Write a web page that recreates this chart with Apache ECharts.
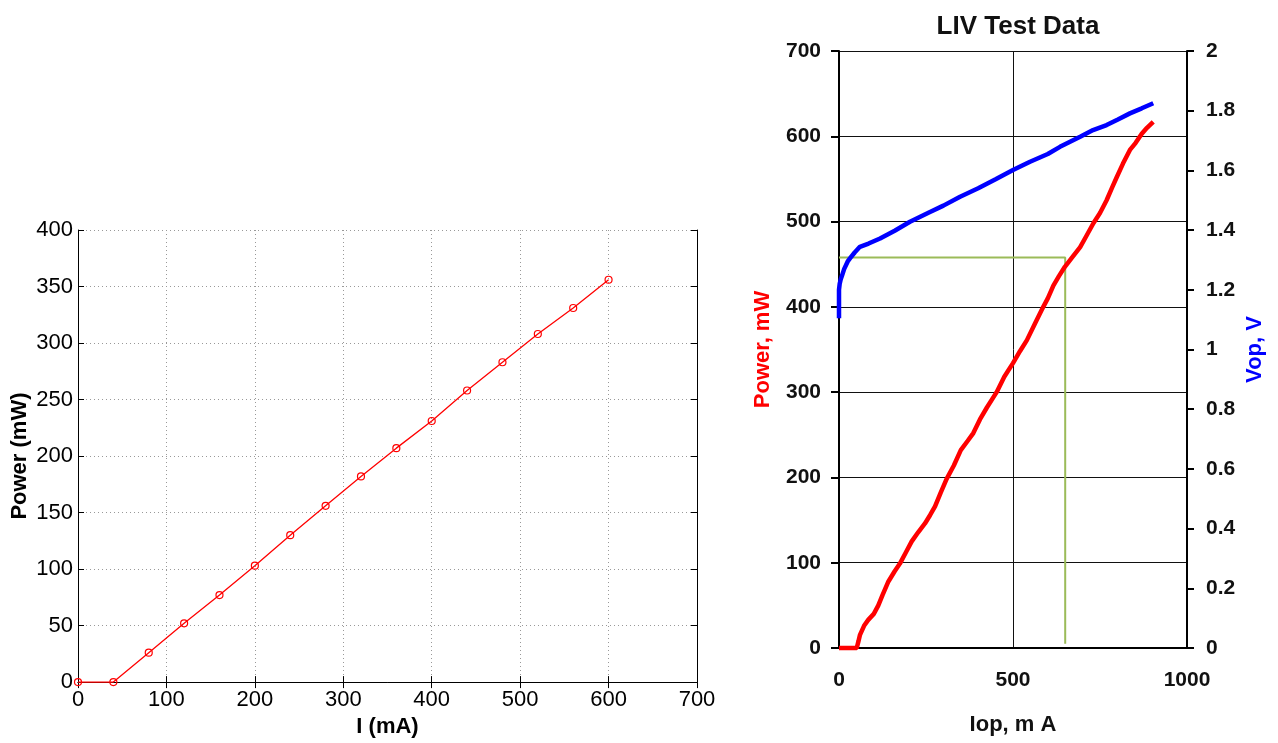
<!DOCTYPE html>
<html>
<head>
<meta charset="utf-8">
<title>LIV</title>
<script src="https://cdn.jsdelivr.net/npm/echarts@6/dist/echarts.min.js"></script>
<style>
  html, body { margin: 0; padding: 0; background: #fff; }
  #main { width: 1278px; height: 743px; }
</style>
</head>
<body>
<div id="main"></div>
<script>
// left plot: measured points
const iMa = [0, 40, 80, 120, 160, 200, 240, 280, 320, 360, 400, 440, 480, 520, 560, 600]
const powerMw = [0, 0, 26, 52, 77, 103, 130, 156, 182, 207, 231, 258, 283, 308, 331, 356]

// right plot: LIV test data, power (mW) vs Iop (mA)
const livIop = [0, 25, 51, 56, 60, 72, 84, 100, 113, 125, 142, 160, 175, 192, 209, 228, 247, 262, 276, 292, 309, 330, 350, 370, 386, 405, 425, 453, 475, 500, 520, 540, 565, 587, 600, 616, 632, 649, 670, 693, 712, 731, 750, 769, 785, 798, 816, 836, 852, 870, 885, 903]
const livPower = [0, 0, 0, 8, 15, 26, 33, 40, 50, 62, 78, 90, 99, 112, 125, 136, 146, 156, 166, 182, 198, 214, 232, 243, 252, 268, 282, 300, 318, 334, 348, 361, 382, 400, 410, 425, 436, 447, 458, 470, 484, 498, 510, 525, 540, 552, 568, 584, 592, 603, 610, 617]

// right plot: Vop (V) vs Iop (mA)
const vopIop = [0, 0, 0, 2, 5, 8, 15, 25, 32, 45, 60, 85, 118, 160, 204, 260, 300, 348, 400, 450, 500, 549, 600, 635, 693, 730, 769, 800, 836, 870, 903]
const vopV = [1.105, 1.15, 1.2, 1.22, 1.235, 1.245, 1.27, 1.295, 1.306, 1.325, 1.344, 1.355, 1.372, 1.398, 1.428, 1.46, 1.482, 1.512, 1.54, 1.57, 1.601, 1.629, 1.655, 1.679, 1.713, 1.735, 1.752, 1.77, 1.791, 1.808, 1.825]

// green marker lines
const markIop = [0, 650, 650]
const markPower = [458, 458, 5]

const pairs = (xs, ys) => xs.map((x, i) => [x, ys[i]])

const chart = echarts.init(document.getElementById('main'))
const helv = 'Liberation Sans, Arial, Helvetica, sans-serif'

chart.setOption({
  animation: false,
  title: {
    text: 'LIV Test Data',
    left: 1013,
    top: 9,
    textAlign: 'center',
    textStyle: { fontFamily: helv, fontSize: 26, fontWeight: 'bold', color: '#111' }
  },
  grid: [
    { left: 78, top: 230, width: 619, height: 461 },
    { left: 839, top: 51, width: 348, height: 597 }
  ],
  xAxis: [
    {
      gridIndex: 0, type: 'value', min: 0, max: 700, interval: 100,
      name: 'I (mA)', nameLocation: 'middle', nameGap: 27,
      nameTextStyle: { fontFamily: helv, fontSize: 22, fontWeight: 'bold', color: '#000' },
      axisLine: { lineStyle: { color: '#000', width: 1 } },
      axisTick: { inside: true, length: 6, lineStyle: { color: '#000' } },
      axisLabel: { margin: 7, fontFamily: helv, fontSize: 22, color: '#000' },
      splitLine: { show: true, lineStyle: { color: '#999', type: [1, 3], width: 1 } }
    },
    {
      gridIndex: 0, type: 'value', min: 0, max: 700, interval: 100, position: 'top',
      axisLine: { lineStyle: { color: '#000', width: 1 } },
      axisTick: { inside: true, length: 6, lineStyle: { color: '#000' } },
      axisLabel: { show: false },
      splitLine: { show: false }
    },
    {
      gridIndex: 1, type: 'value', min: 0, max: 1000, interval: 500,
      name: 'Iop, m A', nameLocation: 'middle', nameGap: 66,
      nameTextStyle: { fontFamily: helv, fontSize: 22, fontWeight: 'bold', color: '#111' },
      axisLine: { lineStyle: { color: '#000', width: 2 } },
      axisTick: { show: false },
      axisLabel: { margin: 22, fontFamily: helv, fontSize: 21, fontWeight: 'bold', color: '#111', formatter: v => String(v) },
      splitLine: { show: true, lineStyle: { color: '#111', width: 1 } }
    }
  ],
  yAxis: [
    {
      gridIndex: 0, type: 'value', min: 0, max: 400, interval: 50, position: 'left',
      name: 'Power (mW)', nameLocation: 'middle', nameGap: 47, nameRotate: 90,
      nameTextStyle: { fontFamily: helv, fontSize: 22, fontWeight: 'bold', color: '#000' },
      axisLine: { show: true, onZero: false, lineStyle: { color: '#000', width: 1 } },
      axisTick: { show: true, inside: true, length: 6, lineStyle: { color: '#000' } },
      axisLabel: { margin: 5, fontFamily: helv, fontSize: 22, color: '#000' },
      splitLine: { show: true, lineStyle: { color: '#999', type: [1, 3], width: 1 } }
    },
    {
      gridIndex: 0, type: 'value', min: 0, max: 400, interval: 50, position: 'right',
      axisLine: { show: true, onZero: false, lineStyle: { color: '#000', width: 1 } },
      axisTick: { show: true, inside: true, length: 6, lineStyle: { color: '#000' } },
      axisLabel: { show: false },
      splitLine: { show: false }
    },
    {
      gridIndex: 1, type: 'value', min: 0, max: 700, interval: 100,
      name: 'Power, mW', nameLocation: 'middle', nameGap: 65, nameRotate: 90,
      nameTextStyle: { fontFamily: helv, fontSize: 22, fontWeight: 'bold', color: '#ff0000' },
      axisLine: { show: true, lineStyle: { color: '#000', width: 2 } },
      axisTick: { show: true, length: 8, lineStyle: { color: '#000', width: 2 } },
      axisLabel: { margin: 18, fontFamily: helv, fontSize: 21, fontWeight: 'bold', color: '#111' },
      splitLine: { show: true, lineStyle: { color: '#111', width: 1 } }
    },
    {
      gridIndex: 1, type: 'value', min: 0, max: 2, interval: 0.2, position: 'right',
      name: 'Vop, V', nameLocation: 'middle', nameGap: 57, nameRotate: 90,
      nameTextStyle: { fontFamily: helv, fontSize: 22, fontWeight: 'bold', color: '#0000ff' },
      axisLine: { show: true, lineStyle: { color: '#000', width: 2 } },
      axisTick: { show: true, length: 7, lineStyle: { color: '#000', width: 2 } },
      axisLabel: { margin: 19, fontFamily: helv, fontSize: 21, fontWeight: 'bold', color: '#111' },
      splitLine: { show: false }
    }
  ],
  series: [
    {
      type: 'line', xAxisIndex: 0, yAxisIndex: 0,
      data: pairs(iMa, powerMw),
      symbol: 'circle', symbolSize: 7, clip: false,
      lineStyle: { color: '#ff0000', width: 1.3 },
      itemStyle: { color: 'rgba(0,0,0,0)', borderColor: '#ff0000', borderWidth: 1.2 }
    },
    {
      type: 'line', xAxisIndex: 2, yAxisIndex: 2,
      data: pairs(markIop, markPower),
      showSymbol: false, clip: false,
      lineStyle: { color: '#9bbb59', width: 2 }
    },
    {
      type: 'line', xAxisIndex: 2, yAxisIndex: 2,
      data: pairs(livIop, livPower),
      showSymbol: false, clip: false, z: 5,
      lineStyle: { color: '#ff0000', width: 4.5 }
    },
    {
      type: 'line', xAxisIndex: 2, yAxisIndex: 3,
      data: pairs(vopIop, vopV),
      showSymbol: false, clip: false, z: 5,
      lineStyle: { color: '#0000ff', width: 4.5 }
    }
  ]
})
</script>
</body>
</html>
